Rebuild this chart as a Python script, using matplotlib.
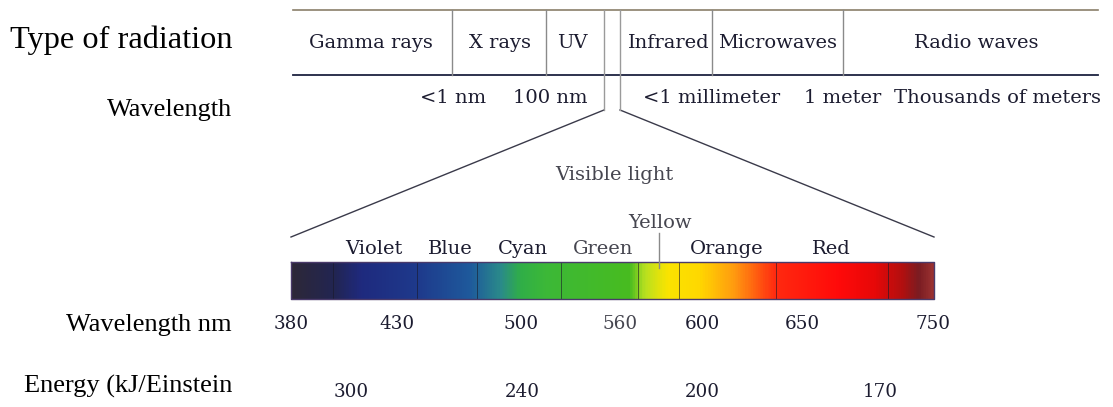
import numpy as np
import matplotlib
matplotlib.use("Agg")
import matplotlib.pyplot as plt
from matplotlib.colors import LinearSegmentedColormap

# ---------------- data ----------------
radiation_types = ["Gamma rays", "X rays", "UV", "Infrared", "Microwaves", "Radio waves"]
radiation_wavelengths = ["<1 nm", "100 nm", "<1 millimeter", "1 meter", "Thousands of meters"]
color_names = ["Violet", "Blue", "Cyan", "Green", "Yellow", "Orange", "Red"]
wavelength_ticks = [380, 430, 500, 560, 600, 650, 750]
energy_values = [300, 240, 200, 170]
row_labels = ["Type of radiation", "Wavelength", "Wavelength nm", "Energy (kJ/Einstein"]

# ---------------- layout (pixel coordinates) ----------------
W, H = 1113, 407
table_x0, table_x1, table_top, table_bot = 293, 1098, 10, 75
table_seps = [452, 546, 712, 843]
visible_l, visible_r, visible_split = 604, 620, 110
type_x = [371, 500, 572, 669, 778, 976]
type_y = 43
wl_x = [453, 550, 712, 843, 997]
wl_y = 98
bar_x0, bar_x1, bar_y0, bar_y1 = 291, 934, 262, 299
bar_seps = [333, 417, 477, 561, 638, 679, 776, 888]
cname_x = [374, 450, 523, 603, 660, 727, 831]
cname_y = [249, 249, 249, 249, 223, 249, 249]
tick_x = [291, 397, 521, 620, 702, 802, 933]
tick_y = 324
energy_x = [351, 522, 702, 880]
energy_y = 392

ink = "#1c1c30"
grey_ink = "#45454f"

fig = plt.figure(figsize=(W / 100, H / 100), dpi=100)
ax = fig.add_axes([0, 0, 1, 1])
ax.set_xlim(0, W)
ax.set_ylim(H, 0)
ax.axis("off")

serif = "DejaVu Serif"
times = "Liberation Serif"
lab_fs = 14
num_fs = 13.2

# left row labels
ax.text(232, 40, row_labels[0], family=times, fontsize=23.3, ha="right", va="center", color="black")
ax.text(232, 110, row_labels[1], family=times, fontsize=19, ha="right", va="center", color="black")
ax.text(232, 325, row_labels[2], family=times, fontsize=19, ha="right", va="center", color="black")
ax.text(232, 386, row_labels[3], family=times, fontsize=19, ha="right", va="center", color="black")

# top table
ax.plot([table_x0, table_x1], [table_top, table_top], color="#8a7f6a", lw=1.2)
ax.plot([table_x0, table_x1], [table_bot, table_bot], color="#1c2240", lw=1.3)
for sx in table_seps:
    ax.plot([sx, sx], [table_top, table_bot], color="#8a8a8a", lw=1.0)
for name, x in zip(radiation_types, type_x):
    ax.text(x, type_y, name, family=serif, fontsize=lab_fs, ha="center", va="center", color=ink)
for lab, x in zip(radiation_wavelengths, wl_x):
    ax.text(x, wl_y, lab, family=serif, fontsize=lab_fs, ha="center", va="center", color=ink)

# visible light wedge
ax.plot([visible_l, bar_x0], [visible_split, bar_y0 - 25], color="#3a3a4a", lw=1.0)
ax.plot([visible_r, bar_x1], [visible_split, bar_y0 - 25], color="#3a3a4a", lw=1.0)
ax.plot([visible_l, visible_l], [table_top, visible_split], color="#9a9a9a", lw=1.0)
ax.plot([visible_r, visible_r], [table_top, visible_split], color="#9a9a9a", lw=1.0)
ax.text(614, 175, "Visible light", family=serif, fontsize=lab_fs, ha="center", va="center", color=grey_ink)

# spectrum bar
stops = [
    (291, "#2d2838"), (333, "#222552"), (360, "#1f2a7e"), (417, "#1e3a8c"),
    (470, "#1f5a9c"), (500, "#2a8a8a"), (520, "#30ae48"), (545, "#3cb838"),
    (630, "#48bc20"), (645, "#b8e020"), (668, "#fbe400"), (700, "#ffd800"),
    (735, "#ff9a10"), (776, "#ff2a10"), (840, "#ff0a0a"), (875, "#e80808"),
    (905, "#b01010"), (920, "#7a1c22"), (934, "#983030"),
]
pos = [(p - bar_x0) / (bar_x1 - bar_x0) for p, _ in stops]
cmap = LinearSegmentedColormap.from_list("spec", list(zip(pos, [c for _, c in stops])))
grad = np.linspace(0, 1, 800)[None, :]
ax.imshow(grad, cmap=cmap, extent=[bar_x0, bar_x1, bar_y1, bar_y0], aspect="auto", interpolation="bilinear", zorder=2)
for sx in bar_seps:
    ax.plot([sx, sx], [bar_y0, bar_y1], color="#1a1a2a", lw=0.6, alpha=0.7, zorder=3)
ax.plot([bar_x0, bar_x1, bar_x1, bar_x0, bar_x0], [bar_y0, bar_y0, bar_y1, bar_y1, bar_y0],
        color="#4a3a6a", lw=1.0, zorder=3)
ax.set_xlim(0, W)
ax.set_ylim(H, 0)

# yellow pointer
ax.plot([659, 659], [233, 268], color="#8a8a8a", lw=1.0, zorder=4)

for name, x, y in zip(color_names, cname_x, cname_y):
    c = grey_ink if name in ("Yellow", "Green") else ink
    ax.text(x, y, name, family=serif, fontsize=lab_fs, ha="center", va="center", color=c)

for t, x in zip(wavelength_ticks, tick_x):
    c = grey_ink if t == 560 else ink
    ax.text(x, tick_y, str(t), family=serif, fontsize=num_fs, ha="center", va="center", color=c)
for e, x in zip(energy_values, energy_x):
    ax.text(x, energy_y, str(e), family=serif, fontsize=num_fs, ha="center", va="center", color=ink)

fig.savefig("out.png", dpi=100)
